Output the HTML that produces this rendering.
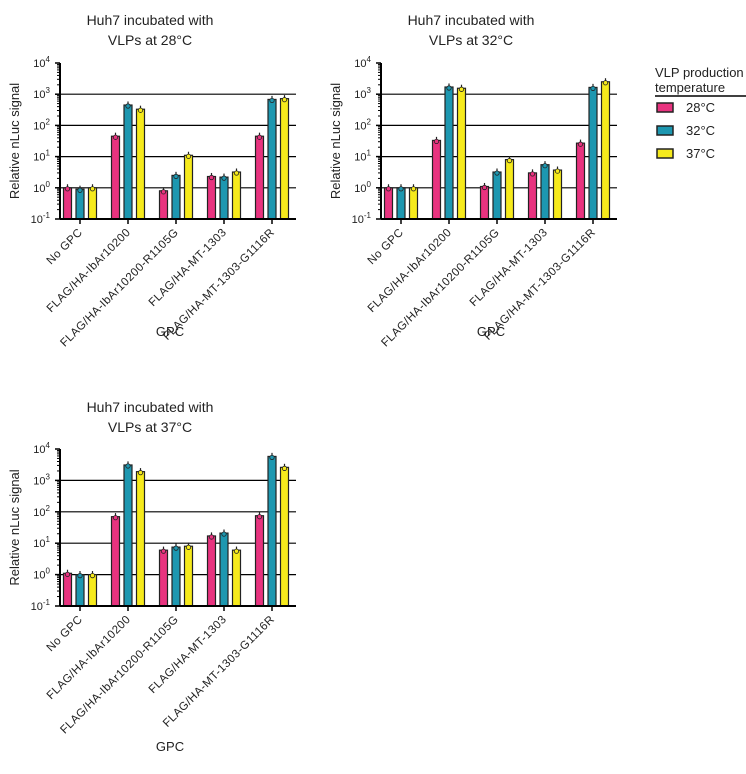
<!DOCTYPE html>
<html><head><meta charset="utf-8"><style>
body{margin:0;background:#fff;width:746px;height:769px;overflow:hidden;font-family:"Liberation Sans","DejaVu Sans",sans-serif}
svg text{font-family:"Liberation Sans","DejaVu Sans",sans-serif;fill:#222}
</style></head><body>
<svg id="svg" width="746" height="769" xmlns="http://www.w3.org/2000/svg">
<g>
<text x="655" y="77" font-size="13">VLP production</text>
<text x="655" y="92" font-size="13">temperature</text>
<line x1="655" y1="96" x2="746" y2="96" stroke="#000" stroke-width="1.5"/>
<rect x="657" y="103" width="16" height="9" fill="#e8337f" stroke="#222" stroke-width="1.5"/>
<text x="686" y="112" font-size="13">28°C</text>
<rect x="657" y="126" width="16" height="9" fill="#1d97b0" stroke="#222" stroke-width="1.5"/>
<text x="686" y="135" font-size="13">32°C</text>
<rect x="657" y="149" width="16" height="9" fill="#f6ea1c" stroke="#222" stroke-width="1.5"/>
<text x="686" y="158" font-size="13">37°C</text>
</g>
</svg>
<script>
const categories=["No GPC","FLAG/HA-IbAr10200","FLAG/HA-IbAr10200-R1105G","FLAG/HA-MT-1303","FLAG/HA-MT-1303-G1116R"];
const series28_c1=[1,45,0.8,2.3,45];
const series32_c1=[0.9,450,2.5,2.2,680];
const series37_c1=[1,330,11,3.2,720];
const series28_c2=[1,33,1.1,3,27];
const series32_c2=[1,1700,3.2,5.5,1650];
const series37_c2=[1,1550,8,3.7,2500];
const series28_c3=[1.1,70,6,17,75];
const series32_c3=[1,3100,7.5,21,5800];
const series37_c3=[1,1900,8,6,2600];
const tickExps=[-1,0,1,2,3,4];
const titles=["VLPs at 28°C","VLPs at 32°C","VLPs at 37°C"];
const colors=["#e8337f","#1d97b0","#f6ea1c"];
const NS="http://www.w3.org/2000/svg";
const svg=document.getElementById('svg');
function mk(tag,attrs,parent){const e=document.createElementNS(NS,tag);for(const k in attrs)e.setAttribute(k,attrs[k]);(parent||svg).appendChild(e);return e;}
const charts=[
 {x0:60,x1:296,yTop:63,yBot:219,data:[series28_c1,series32_c1,series37_c1],tx:150,ty:25,gy:336},
 {x0:381,x1:617,yTop:63,yBot:219,data:[series28_c2,series32_c2,series37_c2],tx:471,ty:25,gy:336},
 {x0:60,x1:296,yTop:449,yBot:606,data:[series28_c3,series32_c3,series37_c3],tx:150,ty:412,gy:751}
];
charts.forEach((c,ci)=>{
 const g=mk('g',{});
 
 
 const y=v=>c.yBot-(Math.log10(v)+1)/5*(c.yBot-c.yTop);
 const xc=i=>c.x0+20+i*48;
 const t1=mk('text',{x:c.tx,y:c.ty,'font-size':14,'text-anchor':'middle'},g);t1.textContent='Huh7 incubated with';
 
 const t2=mk('text',{x:c.tx,y:c.ty+20,'font-size':14,'text-anchor':'middle'},g);t2.textContent=titles[ci];
 tickExps.forEach(e=>{
  const yy=y(Math.pow(10,e));
  if(e>=0&&e<=3){const l=mk('line',{x1:c.x0,x2:c.x1,y1:yy,y2:yy,stroke:'#000','stroke-width':1.2},g);}
  mk('line',{x1:c.x0-5,x2:c.x0,y1:yy,y2:yy,stroke:'#000','stroke-width':1.5},g);
  const t=mk('text',{x:c.x0-10,y:yy+4,'font-size':11,'text-anchor':'end'},g);t.textContent='10';
  const s=mk('tspan',{dy:-5,'font-size':8},t);s.textContent=String(e);
  if(e<4)for(let m=2;m<10;m++){const my=y(m*Math.pow(10,e));mk('line',{x1:c.x0-3,x2:c.x0,y1:my,y2:my,stroke:'#000','stroke-width':1},g);}
 });
 mk('line',{x1:c.x0,x2:c.x0,y1:c.yTop,y2:c.yBot,stroke:'#000','stroke-width':2},g);
 const yl=mk('text',{x:0,y:0,'font-size':13,'text-anchor':'middle',transform:`translate(${c.x0-41},${(c.yTop+c.yBot)/2}) rotate(-90)`},g);yl.textContent='Relative nLuc signal';
 
 categories.forEach((cat,i)=>{
  c.data.forEach((arr,si)=>{
   const bx=xc(i)+(si-1)*12.5-4, top=y(arr[i]);
   const r=mk('rect',{x:bx,y:top,width:8,height:c.yBot-top,fill:colors[si],stroke:'#222','stroke-width':1.2},g);
   
   
   const ey=y(arr[i]*1.3);
   mk('line',{x1:bx+4,x2:bx+4,y1:ey,y2:top,stroke:'#222','stroke-width':1.2},g);
   mk('circle',{cx:bx+4,cy:top+1,r:2.2,fill:colors[si],stroke:'#222','stroke-width':0.8},g);
  });
  mk('line',{x1:xc(i),x2:xc(i),y1:c.yBot,y2:c.yBot+5,stroke:'#000','stroke-width':1.5},g);
  const t=mk('text',{x:0,y:0,'font-size':11.5,'letter-spacing':'0.4','text-anchor':'end',transform:`translate(${xc(i)+3},${c.yBot+14}) rotate(-45)`},g);
  t.textContent=cat;
  
 });
 mk('line',{x1:c.x0,x2:c.x1,y1:c.yBot,y2:c.yBot,stroke:'#000','stroke-width':2},g);
 const xl=mk('text',{x:c.x0+(c.x1-c.x0)/2-8,y:c.gy,'font-size':13,'text-anchor':'middle'},g);xl.textContent='GPC';
 
});
</script>
</body></html>
